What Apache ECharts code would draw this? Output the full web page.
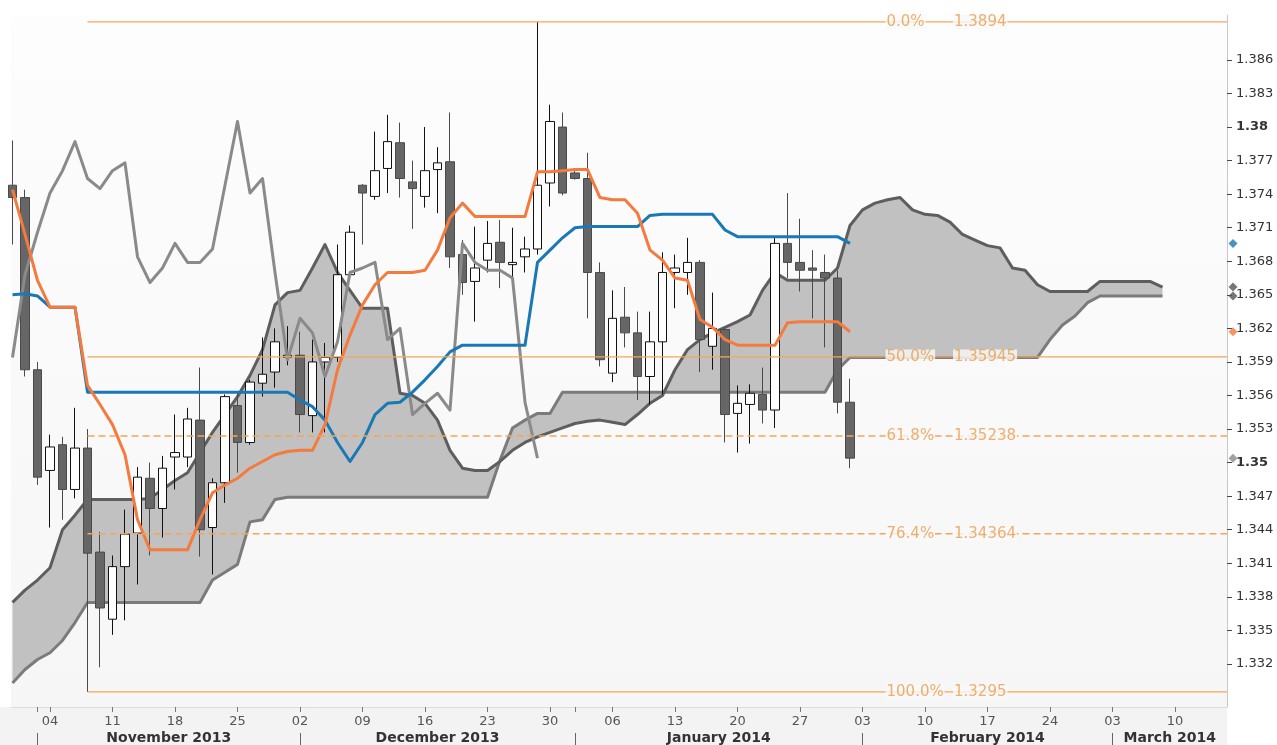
<!DOCTYPE html>
<html><head><meta charset="utf-8">
<script src="https://cdn.jsdelivr.net/npm/echarts@6/dist/echarts.min.js"></script>
<style>html,body{margin:0;padding:0;background:#fff}#c{width:1277px;height:745px}</style>
</head><body><div id="c"></div>
<script>
// ---- DATA (EUR/USD daily, Ichimoku) ----
// one candle per trading day starting Wed 30 Oct 2013: [open, close, low, high]
const candles = [
[1.3748,1.3737,1.3695,1.3788],[1.3737,1.3583,1.3577,1.3744],[1.3583,1.3487,1.3480,1.3590],
[1.3493,1.3514,1.3442,1.3525],[1.3516,1.3476,1.3449,1.3523],[1.3476,1.3513,1.3468,1.3549],
[1.3513,1.3419,1.3295,1.3530],[1.3420,1.3370,1.3317,1.3438],[1.3360,1.3407,1.3346,1.3417],
[1.3407,1.3436,1.3359,1.3458],[1.3437,1.3487,1.3391,1.3496],[1.3486,1.3459,1.3417,1.3500],
[1.3459,1.3495,1.3433,1.3506],[1.3505,1.3509,1.3476,1.3543],[1.3505,1.3539,1.3496,1.3549],
[1.3538,1.3440,1.3416,1.3585],[1.3442,1.3482,1.3400,1.3486],[1.3482,1.3559,1.3464,1.3561],
[1.3551,1.3518,1.3491,1.3562],[1.3518,1.3572,1.3516,1.3574],[1.3571,1.3579,1.3559,1.3612],
[1.3581,1.3608,1.3567,1.3620],[1.3594,1.3596,1.3587,1.3622],[1.3596,1.3543,1.3527,1.3617],
[1.3542,1.3590,1.3527,1.3610],[1.3590,1.3594,1.3527,1.3607],[1.3594,1.3668,1.3590,1.3695],
[1.3668,1.3706,1.3663,1.3712],[1.3748,1.3741,1.3695,1.3749],[1.3738,1.3761,1.3735,1.3796],
[1.3763,1.3787,1.3741,1.3811],[1.3786,1.3754,1.3737,1.3804],[1.3751,1.3745,1.3709,1.3770],
[1.3738,1.3761,1.3728,1.3800],[1.3762,1.3768,1.3723,1.3782],[1.3769,1.3684,1.3674,1.3813],
[1.3686,1.3661,1.3650,1.3699],[1.3662,1.3674,1.3626,1.3711],[1.3681,1.3696,1.3670,1.3716],
[1.3697,1.3679,1.3656,1.3717],[1.3677,1.3679,1.3666,1.3710],[1.3684,1.3691,1.3670,1.3702],
[1.3691,1.3748,1.3686,1.3894],[1.3750,1.3805,1.3729,1.3820],[1.3800,1.3741,1.3739,1.3813],
[1.3759,1.3754,1.3753,1.3763],[1.3754,1.3670,1.3629,1.3777],[1.3670,1.3592,1.3586,1.3679],
[1.3580,1.3629,1.3572,1.3654],[1.3630,1.3616,1.3603,1.3657],[1.3616,1.3577,1.3556,1.3635],
[1.3577,1.3608,1.3552,1.3635],[1.3608,1.3670,1.3561,1.3688],[1.3670,1.3674,1.3638,1.3686],
[1.3670,1.3679,1.3650,1.3701],[1.3679,1.3610,1.3581,1.3681],[1.3604,1.3620,1.3583,1.3652],
[1.3619,1.3543,1.3518,1.3621],[1.3544,1.3553,1.3509,1.3569],[1.3552,1.3562,1.3517,1.3570],
[1.3561,1.3547,1.3535,1.3585],[1.3547,1.3696,1.3531,1.3701],[1.3696,1.3679,1.3665,1.3741],
[1.3679,1.3672,1.3653,1.3718],[1.3674,1.3672,1.3629,1.3690],[1.3670,1.3665,1.3603,1.3686],
[1.3665,1.3554,1.3544,1.3672],[1.3554,1.3504,1.3495,1.3575]
];
const tenkan = [
1.3744,1.3704,1.3663,1.3639,1.3639,1.3639,1.3569,1.3552,1.3534,1.3507,
1.3449,1.3422,1.3422,1.3422,1.3422,1.3449,1.3473,1.3480,1.3486,1.3495,
1.3501,1.3507,1.3510,1.3511,1.3511,1.3534,1.3583,1.3614,1.3641,1.3659,
1.3670,1.3670,1.3670,1.3672,1.3690,1.3719,1.3732,1.3720,1.3720,1.3720,
1.3720,1.3720,1.3760,1.3760,1.3761,1.3762,1.3762,1.3737,1.3735,1.3735,
1.3723,1.3690,1.3681,1.3665,1.3663,1.3628,1.3621,1.3610,1.3605,1.3605,
1.3605,1.3605,1.3625,1.3626,1.3626,1.3626,1.3626,1.3617];
const kijun = [
1.3650,1.3651,1.3649,1.3639,1.3639,1.3639,1.3563,1.3563,1.3563,1.3563,
1.3563,1.3563,1.3563,1.3563,1.3563,1.3563,1.3563,1.3563,1.3563,1.3563,
1.3563,1.3563,1.3563,1.3556,1.3550,1.3538,1.3518,1.3501,1.3518,1.3543,
1.3553,1.3554,1.3563,1.3574,1.3586,1.3599,1.3605,1.3605,1.3605,1.3605,
1.3605,1.3605,1.3679,1.3690,1.3701,1.3710,1.3711,1.3711,1.3711,1.3711,
1.3711,1.3721,1.3722,1.3722,1.3722,1.3722,1.3722,1.3708,1.3702,1.3702,
1.3702,1.3702,1.3702,1.3702,1.3702,1.3702,1.3702,1.3696];
const chikou = [
1.3594,1.3668,1.3706,1.3741,1.3761,1.3787,1.3754,1.3745,1.3761,1.3768,
1.3684,1.3661,1.3674,1.3696,1.3679,1.3679,1.3691,1.3748,1.3805,1.3741,
1.3754,1.3670,1.3592,1.3629,1.3616,1.3577,1.3608,1.3670,1.3674,1.3679,
1.3610,1.3620,1.3543,1.3553,1.3562,1.3547,1.3696,1.3679,1.3672,1.3672,
1.3665,1.3554,1.3504];
const senkouA = [
1.3375,1.3386,1.3395,1.3406,1.3440,1.3453,1.3467,1.3467,1.3467,1.3467,
1.3467,1.3468,1.3476,1.3484,1.3491,1.3509,1.3527,1.3543,1.3559,1.3578,
1.3601,1.3641,1.3652,1.3654,1.3674,1.3695,1.3670,1.3654,1.3638,1.3638,
1.3638,1.3562,1.3560,1.3553,1.3538,1.3511,1.3495,1.3493,1.3493,1.3501,
1.3511,1.3518,1.3523,1.3527,1.3531,1.3535,1.3537,1.3538,1.3536,1.3534,
1.3543,1.3553,1.3560,1.3583,1.3601,1.3610,1.3616,1.3621,1.3626,1.3632,
1.3654,1.3670,1.3663,1.3663,1.3663,1.3663,1.3674,1.3712,1.3726,1.3732,
1.3735,1.3737,1.3726,1.3722,1.3721,1.3715,1.3704,1.3699,1.3694,1.3692,
1.3674,1.3672,1.3659,1.3653,1.3653,1.3653,1.3653,1.3662,1.3662,1.3662,
1.3662,1.3662,1.3657];
const senkouB = [
1.3303,1.3315,1.3324,1.3330,1.3341,1.3357,1.3375,1.3375,1.3375,1.3375,
1.3375,1.3375,1.3375,1.3375,1.3375,1.3375,1.3395,1.3402,1.3409,1.3447,
1.3449,1.3467,1.3469,1.3469,1.3469,1.3469,1.3469,1.3469,1.3469,1.3469,
1.3469,1.3469,1.3469,1.3469,1.3469,1.3469,1.3469,1.3469,1.3469,1.3502,
1.3531,1.3538,1.3544,1.3544,1.3563,1.3563,1.3563,1.3563,1.3563,1.3563,
1.3563,1.3563,1.3563,1.3563,1.3563,1.3563,1.3563,1.3563,1.3563,1.3563,
1.3563,1.3563,1.3563,1.3563,1.3563,1.3563,1.3583,1.3594,1.3594,1.3594,
1.3594,1.3594,1.3594,1.3594,1.3594,1.3594,1.3594,1.3594,1.3594,1.3594,
1.3594,1.3594,1.3594,1.3610,1.3623,1.3631,1.3643,1.3649,1.3649,1.3649,
1.3649,1.3649,1.3649];
// Fibonacci retracement
const fibPct = ['0.0%','50.0%','61.8%','76.4%','100.0%'];
const fibVal = [1.3894,1.35945,1.35238,1.34364,1.3295];
const fibText = ['1.3894','1.35945','1.35238','1.34364','1.3295'];
const fibDashed = [false,false,true,true,false];
const fibStartIdx = 6;
// axis ticks
const yTicks = [1.332,1.335,1.338,1.341,1.344,1.347,1.35,1.353,1.356,1.359,1.362,1.365,1.368,1.371,1.374,1.377,1.38,1.383,1.386];
const yTickText = ['1.332','1.335','1.338','1.341','1.344','1.347','1.35','1.353','1.356','1.359','1.362','1.365','1.368','1.371','1.374','1.377','1.38','1.383','1.386'];
const yTickBold = ['1.35','1.38'];
const dayTickIdx = [3,8,13,18,23,28,33,38,43,48,53,58,63,68,73,78,83,88,93];
const dayTickText = ['04','11','18','25','02','09','16','23','30','06','13','20','27','03','10','17','24','03','10'];
const monthStartIdx = [2,23,45,68,88];
const monthNames = ['November 2013','December 2013','January 2014','February 2014','March 2014'];

// ---- LAYOUT ----
const X_MIN = -0.12, X_MAX = 97.16;
const Y_MIN = 1.32815, Y_MAX = 1.39002;
const FONT = 'DejaVu Sans';
const BG = '#f9f9f9';
const monthMid = monthStartIdx.map((s,k)=> (s + (k+1 < monthStartIdx.length ? monthStartIdx[k+1] : X_MAX)) / 2);
const idx = a => a.map((v,i)=>[i,v]);
const fibColor = '#f2a65a', fibTextColor = '#ea9c4c';

const series = [];
// cloud fill
series.push({
  type:'custom', silent:true, z:1, data:[[0, senkouA[0]]], encode:{x:0,y:1},
  renderItem:(params, api)=>{
    const pts=[];
    for(let i=0;i<senkouA.length;i++) pts.push(api.coord([i, senkouA[i]]));
    for(let i=senkouB.length-1;i>=0;i--) pts.push(api.coord([i, senkouB[i]]));
    return {type:'polygon', shape:{points:pts}, style:{fill:'#c1c1c1'}};
  }
});
const lineS = (data,color,width,z)=>({type:'line',data,symbol:'none',showSymbol:false,silent:true,
  lineStyle:{color,width,join:'round'},itemStyle:{color},z});
series.push(lineS(idx(senkouB),'#7b7b7b',3,2));
series.push(lineS(idx(senkouA),'#5e5e5e',3,2));
series.push({
  type:'candlestick', z:3, silent:true, barWidth:9,
  data:candles.map((c,i)=>[i,c[0],c[1],c[2],c[3]]), encode:{x:0,y:[1,2,3,4]},
  itemStyle:{color:'#ffffff',color0:'#666666',borderColor:'#111111',borderColor0:'#4a4a4a',borderWidth:1}
});
series.push(lineS(idx(chikou),'#8a8a8a',3,4));
series.push(lineS(idx(kijun),'#1978b5',3,4));
series.push(lineS(idx(tenkan),'#f47a3d',3,4));
// fib lines
fibVal.forEach((v,k)=>{
  series.push({type:'line',data:[[fibStartIdx,v],[X_MAX,v]],symbol:'none',silent:true,z:5,
    lineStyle:{color:fibColor,width:1.3,type:fibDashed[k]?[7,4]:'solid'}});
});
const fibLabelStyle = {show:true,position:'right',distance:0,color:fibTextColor,fontSize:15,fontFamily:FONT,backgroundColor:BG,padding:[0,1]};
series.push({type:'scatter',z:6,silent:true,symbol:'rect',symbolSize:1,itemStyle:{color:'rgba(0,0,0,0)'},
  data:fibVal.map((v,k)=>({value:[69.8,v],label:{formatter:fibPct[k]}})), label:fibLabelStyle});
series.push({type:'scatter',z:6,silent:true,symbol:'rect',symbolSize:1,itemStyle:{color:'rgba(0,0,0,0)'},
  data:fibVal.map((v,k)=>({value:[75.2,v],label:{formatter:fibText[k]}})), label:fibLabelStyle});
// last-value markers on the price axis
const MARK_X = 97.64;
series.push({type:'scatter',z:7,silent:true,clip:false,symbol:'diamond',symbolSize:[9,9],
  data:[
    {value:[MARK_X, kijun[kijun.length-1]], itemStyle:{color:'#1978b5'}},
    {value:[MARK_X, senkouA[senkouA.length-1]], itemStyle:{color:'#555'}},
    {value:[MARK_X, senkouB[senkouB.length-1]], itemStyle:{color:'#555'}},
    {value:[MARK_X, tenkan[tenkan.length-1]], itemStyle:{color:'#f47a3d'}},
    {value:[MARK_X, candles[candles.length-1][1]], itemStyle:{color:'#8a8a8a'}}
  ]});

const chart = echarts.init(document.getElementById('c'));
chart.setOption({
  animation:false,
  backgroundColor:'#ffffff',
  graphic:[{type:'rect',z:-1,silent:true,shape:{x:0,y:707,width:1227,height:38},style:{fill:'#f3f3f3'}}],
  grid:{left:11,right:50,top:15,bottom:38,show:true,borderWidth:0,
    backgroundColor:new echarts.graphic.LinearGradient(0,0,0,1,[{offset:0,color:'#fdfdfd'},{offset:1,color:'#f6f6f6'}])},
  xAxis:[
    {type:'value',min:X_MIN,max:X_MAX,position:'bottom',splitLine:{show:false},
     axisLine:{show:true,onZero:false,lineStyle:{color:'#dddddd'}},
     axisTick:{show:true,length:5,lineStyle:{color:'#777'},customValues:dayTickIdx.concat([2,45])},
     axisLabel:{customValues:dayTickIdx,formatter:v=>dayTickText[dayTickIdx.indexOf(v)],
       color:'#555',fontSize:13,fontFamily:FONT,margin:8}},
    {type:'value',min:X_MIN,max:X_MAX,position:'bottom',offset:22,splitLine:{show:false},
     axisLine:{show:false,onZero:false},axisTick:{show:false},
     axisLabel:{customValues:monthMid,formatter:v=>monthNames[monthMid.indexOf(v)],
       color:'#333',fontSize:14,fontWeight:'bold',fontFamily:FONT,margin:2}},
    {type:'value',min:X_MIN,max:X_MAX,position:'bottom',offset:26,splitLine:{show:false},
     axisLine:{show:false,onZero:false},axisLabel:{show:false},
     axisTick:{show:true,length:12,customValues:monthStartIdx,lineStyle:{color:'#666'}}}
  ],
  yAxis:{type:'value',position:'right',min:Y_MIN,max:Y_MAX,splitLine:{show:false},
    axisLine:{show:true,onZero:false,lineStyle:{color:'#c8c8c8'}},
    axisTick:{show:true,length:5,customValues:yTicks,lineStyle:{color:'#444'}},
    axisLabel:{customValues:yTicks,margin:9,color:'#333',fontSize:13,fontFamily:FONT,
      formatter:v=>{const t=yTickText[yTicks.indexOf(v)]; return yTickBold.includes(t)?'{b|'+t+'}':t;},
      rich:{b:{fontWeight:'bold',fontSize:13,color:'#333',fontFamily:FONT}}}},
  series
});
</script></body></html>
